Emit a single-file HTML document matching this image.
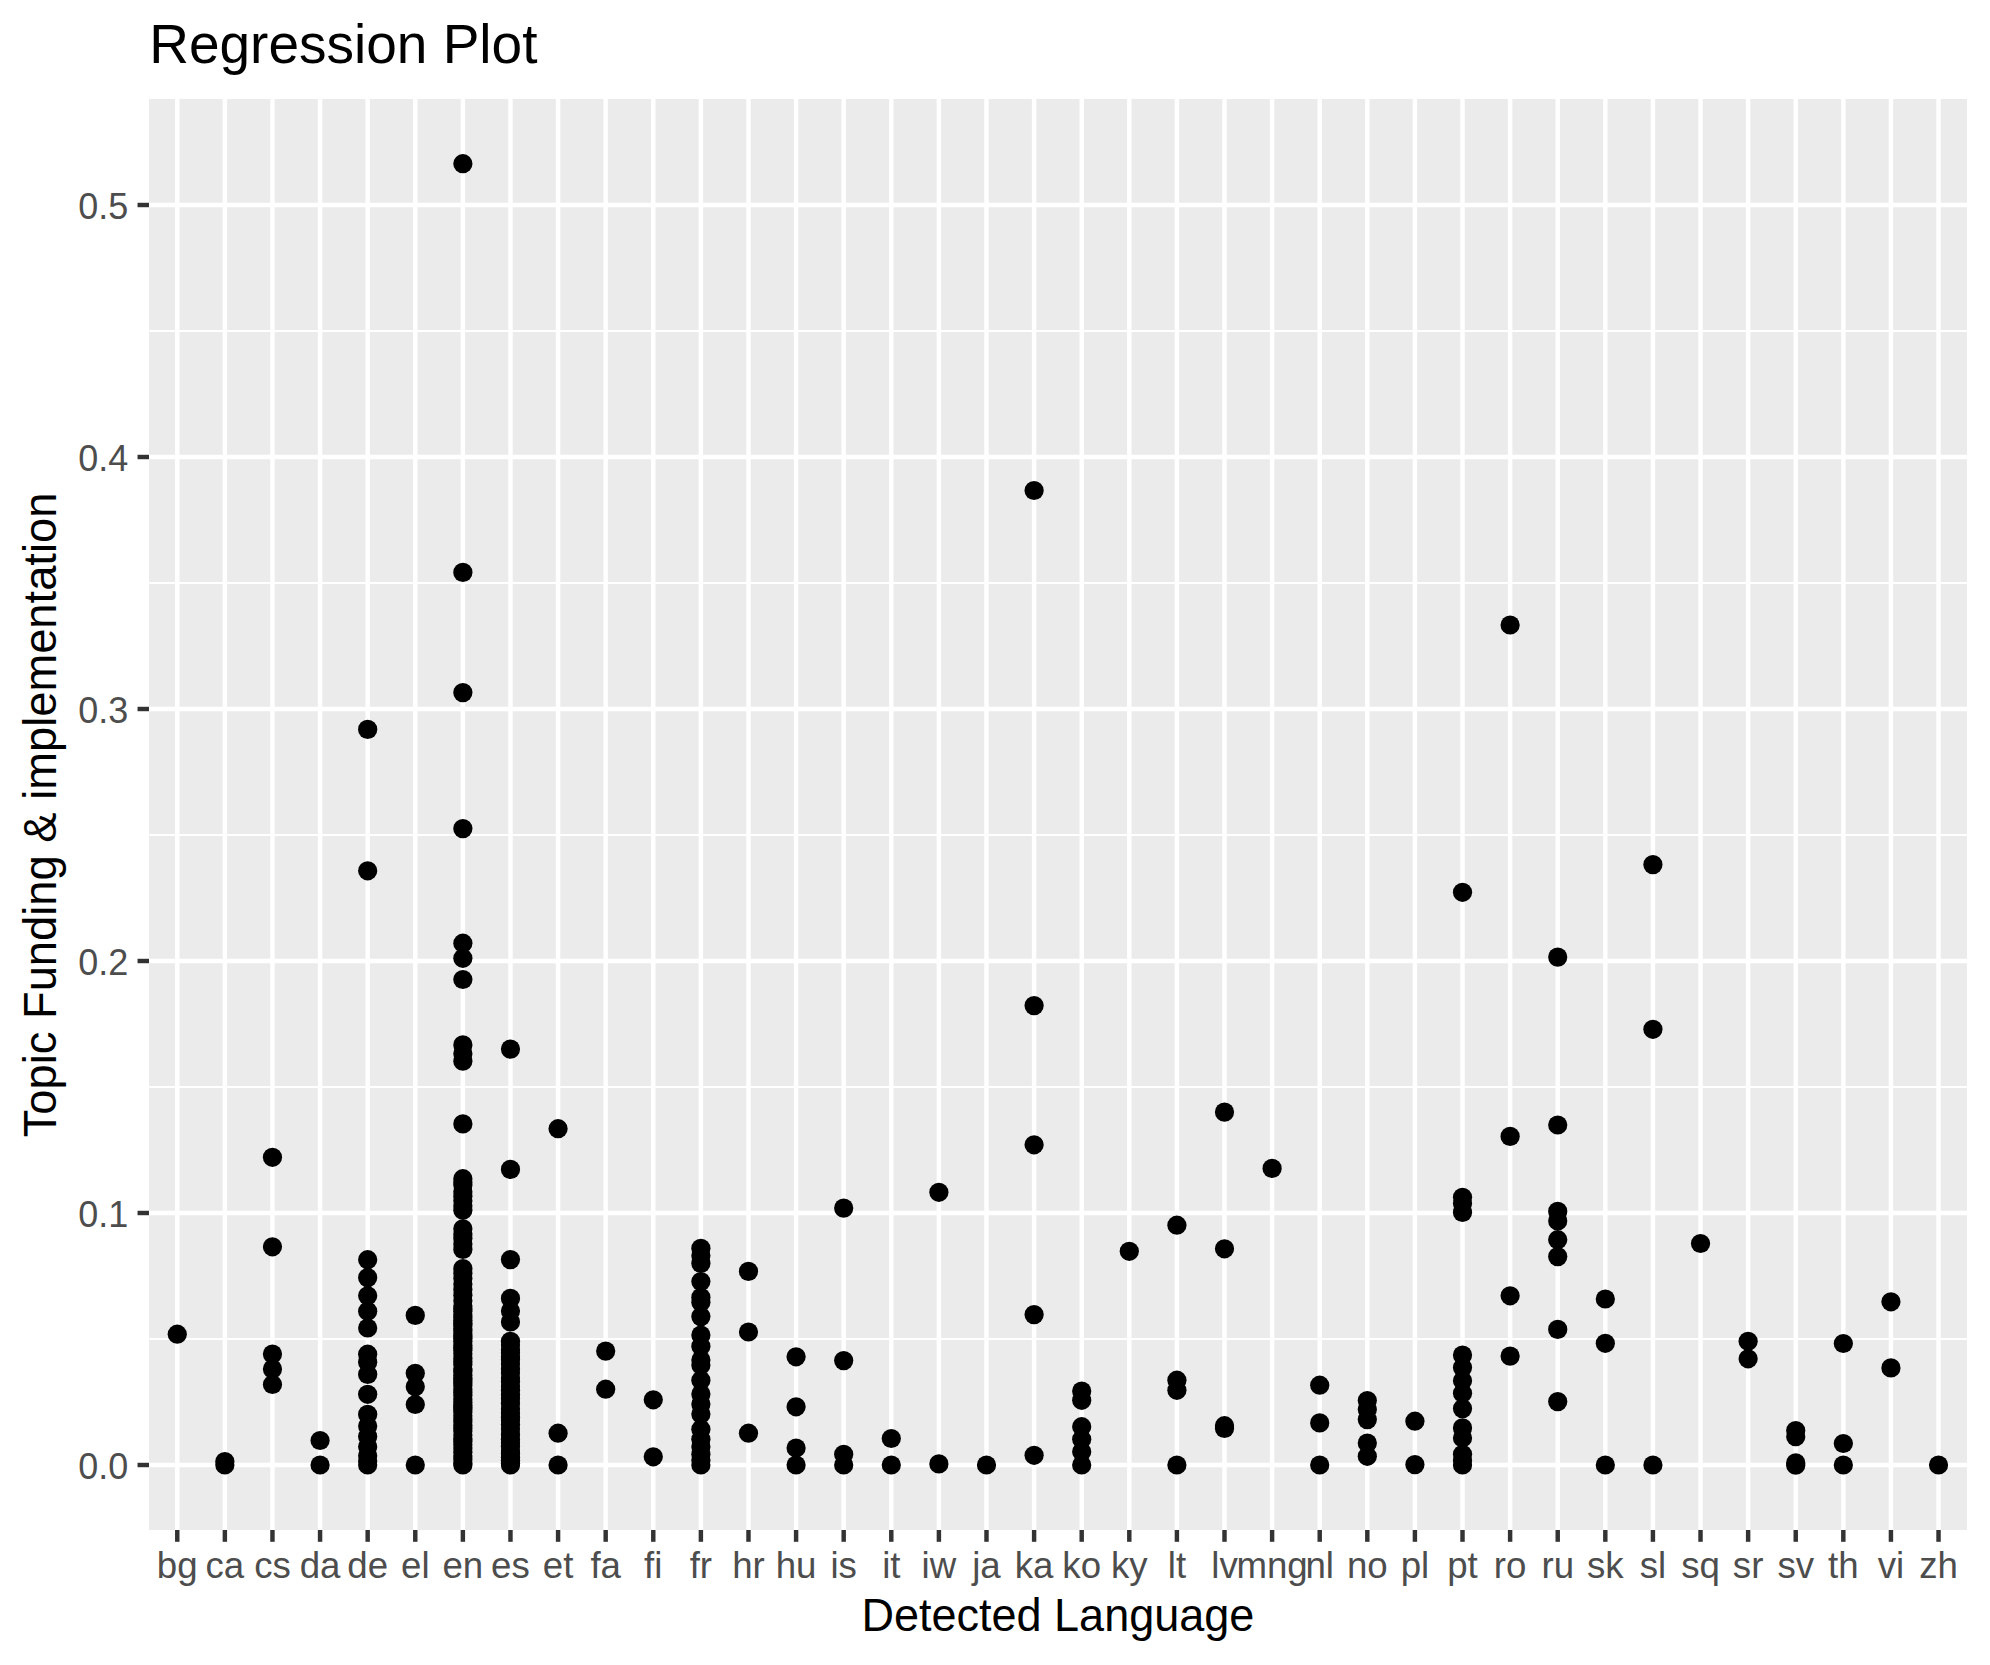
<!DOCTYPE html>
<html lang="en"><head><meta charset="utf-8"><title>Regression Plot</title>
<style>html,body{margin:0;padding:0;background:#fff}svg{display:block}text{font-family:"Liberation Sans",Arial,Helvetica,sans-serif}</style></head><body>
<svg width="1990" height="1665" viewBox="0 0 1990 1665">
<rect width="1990" height="1665" fill="#fff"/>
<rect x="149" y="99" width="1818.0" height="1431.0" fill="#EBEBEB"/>
<g stroke="#fff" stroke-width="2.2" fill="none">
<path d="M149 1339.00H1967"/>
<path d="M149 1087.00H1967"/>
<path d="M149 835.00H1967"/>
<path d="M149 583.00H1967"/>
<path d="M149 331.00H1967"/>
</g>
<g stroke="#fff" stroke-width="4.45" fill="none">
<path d="M149 1465.00H1967"/>
<path d="M149 1213.00H1967"/>
<path d="M149 961.00H1967"/>
<path d="M149 709.00H1967"/>
<path d="M149 457.00H1967"/>
<path d="M149 205.00H1967"/>
<path d="M177.26 99V1530"/>
<path d="M224.86 99V1530"/>
<path d="M272.46 99V1530"/>
<path d="M320.07 99V1530"/>
<path d="M367.67 99V1530"/>
<path d="M415.27 99V1530"/>
<path d="M462.87 99V1530"/>
<path d="M510.47 99V1530"/>
<path d="M558.08 99V1530"/>
<path d="M605.68 99V1530"/>
<path d="M653.28 99V1530"/>
<path d="M700.88 99V1530"/>
<path d="M748.48 99V1530"/>
<path d="M796.09 99V1530"/>
<path d="M843.69 99V1530"/>
<path d="M891.29 99V1530"/>
<path d="M938.89 99V1530"/>
<path d="M986.49 99V1530"/>
<path d="M1034.10 99V1530"/>
<path d="M1081.70 99V1530"/>
<path d="M1129.30 99V1530"/>
<path d="M1176.90 99V1530"/>
<path d="M1224.50 99V1530"/>
<path d="M1272.11 99V1530"/>
<path d="M1319.71 99V1530"/>
<path d="M1367.31 99V1530"/>
<path d="M1414.91 99V1530"/>
<path d="M1462.51 99V1530"/>
<path d="M1510.12 99V1530"/>
<path d="M1557.72 99V1530"/>
<path d="M1605.32 99V1530"/>
<path d="M1652.92 99V1530"/>
<path d="M1700.52 99V1530"/>
<path d="M1748.13 99V1530"/>
<path d="M1795.73 99V1530"/>
<path d="M1843.33 99V1530"/>
<path d="M1890.93 99V1530"/>
<path d="M1938.53 99V1530"/>
</g>
<g fill="#000">
<circle cx="177.26" cy="1334.2" r="9.62"/>
<circle cx="224.86" cy="1461.6" r="9.62"/>
<circle cx="224.86" cy="1465.0" r="9.62"/>
<circle cx="272.46" cy="1157.3" r="9.62"/>
<circle cx="272.46" cy="1246.8" r="9.62"/>
<circle cx="272.46" cy="1354.1" r="9.62"/>
<circle cx="272.46" cy="1369.1" r="9.62"/>
<circle cx="272.46" cy="1384.5" r="9.62"/>
<circle cx="320.07" cy="1440.5" r="9.62"/>
<circle cx="320.07" cy="1465.0" r="9.62"/>
<circle cx="367.67" cy="729.4" r="9.62"/>
<circle cx="367.67" cy="870.8" r="9.62"/>
<circle cx="367.67" cy="1259.7" r="9.62"/>
<circle cx="367.67" cy="1277.6" r="9.62"/>
<circle cx="367.67" cy="1295.8" r="9.62"/>
<circle cx="367.67" cy="1311.2" r="9.62"/>
<circle cx="367.67" cy="1328.0" r="9.62"/>
<circle cx="367.67" cy="1354.2" r="9.62"/>
<circle cx="367.67" cy="1362.3" r="9.62"/>
<circle cx="367.67" cy="1374.4" r="9.62"/>
<circle cx="367.67" cy="1394.3" r="9.62"/>
<circle cx="367.67" cy="1414.4" r="9.62"/>
<circle cx="367.67" cy="1426.0" r="9.62"/>
<circle cx="367.67" cy="1436.6" r="9.62"/>
<circle cx="367.67" cy="1446.7" r="9.62"/>
<circle cx="367.67" cy="1455.7" r="9.62"/>
<circle cx="367.67" cy="1461.0" r="9.62"/>
<circle cx="367.67" cy="1465.0" r="9.62"/>
<circle cx="415.27" cy="1315.4" r="9.62"/>
<circle cx="415.27" cy="1373.3" r="9.62"/>
<circle cx="415.27" cy="1386.8" r="9.62"/>
<circle cx="415.27" cy="1404.5" r="9.62"/>
<circle cx="415.27" cy="1465.0" r="9.62"/>
<circle cx="462.87" cy="163.7" r="9.62"/>
<circle cx="462.87" cy="572.4" r="9.62"/>
<circle cx="462.87" cy="692.6" r="9.62"/>
<circle cx="462.87" cy="828.6" r="9.62"/>
<circle cx="462.87" cy="943.2" r="9.62"/>
<circle cx="462.87" cy="958.3" r="9.62"/>
<circle cx="462.87" cy="979.5" r="9.62"/>
<circle cx="462.87" cy="1044.9" r="9.62"/>
<circle cx="462.87" cy="1053.7" r="9.62"/>
<circle cx="462.87" cy="1061.2" r="9.62"/>
<circle cx="462.87" cy="1123.9" r="9.62"/>
<circle cx="462.87" cy="1178.7" r="9.62"/>
<circle cx="462.87" cy="1182.6" r="9.62"/>
<circle cx="462.87" cy="1185.1" r="9.62"/>
<circle cx="462.87" cy="1191.7" r="9.62"/>
<circle cx="462.87" cy="1196.2" r="9.62"/>
<circle cx="462.87" cy="1200.7" r="9.62"/>
<circle cx="462.87" cy="1205.7" r="9.62"/>
<circle cx="462.87" cy="1210.3" r="9.62"/>
<circle cx="462.87" cy="1228.8" r="9.62"/>
<circle cx="462.87" cy="1233.9" r="9.62"/>
<circle cx="462.87" cy="1238.4" r="9.62"/>
<circle cx="462.87" cy="1243.9" r="9.62"/>
<circle cx="462.87" cy="1249.4" r="9.62"/>
<circle cx="462.87" cy="1268.5" r="9.62"/>
<circle cx="462.87" cy="1273.6" r="9.62"/>
<circle cx="462.87" cy="1278.6" r="9.62"/>
<circle cx="462.87" cy="1284.1" r="9.62"/>
<circle cx="462.87" cy="1289.6" r="9.62"/>
<circle cx="462.87" cy="1295.2" r="9.62"/>
<circle cx="462.87" cy="1300.7" r="9.62"/>
<circle cx="462.87" cy="1306.0" r="9.62"/>
<circle cx="462.87" cy="1308.8" r="9.62"/>
<circle cx="462.87" cy="1311.2" r="9.62"/>
<circle cx="462.87" cy="1314.8" r="9.62"/>
<circle cx="462.87" cy="1317.0" r="9.62"/>
<circle cx="462.87" cy="1320.3" r="9.62"/>
<circle cx="462.87" cy="1323.2" r="9.62"/>
<circle cx="462.87" cy="1325.4" r="9.62"/>
<circle cx="462.87" cy="1328.7" r="9.62"/>
<circle cx="462.87" cy="1330.8" r="9.62"/>
<circle cx="462.87" cy="1333.8" r="9.62"/>
<circle cx="462.87" cy="1336.0" r="9.62"/>
<circle cx="462.87" cy="1338.2" r="9.62"/>
<circle cx="462.87" cy="1341.3" r="9.62"/>
<circle cx="462.87" cy="1345.4" r="9.62"/>
<circle cx="462.87" cy="1347.7" r="9.62"/>
<circle cx="462.87" cy="1350.2" r="9.62"/>
<circle cx="462.87" cy="1353.8" r="9.62"/>
<circle cx="462.87" cy="1358.2" r="9.62"/>
<circle cx="462.87" cy="1361.6" r="9.62"/>
<circle cx="462.87" cy="1364.6" r="9.62"/>
<circle cx="462.87" cy="1369.1" r="9.62"/>
<circle cx="462.87" cy="1371.2" r="9.62"/>
<circle cx="462.87" cy="1375.3" r="9.62"/>
<circle cx="462.87" cy="1378.0" r="9.62"/>
<circle cx="462.87" cy="1380.4" r="9.62"/>
<circle cx="462.87" cy="1382.7" r="9.62"/>
<circle cx="462.87" cy="1385.5" r="9.62"/>
<circle cx="462.87" cy="1389.5" r="9.62"/>
<circle cx="462.87" cy="1392.0" r="9.62"/>
<circle cx="462.87" cy="1395.4" r="9.62"/>
<circle cx="462.87" cy="1399.0" r="9.62"/>
<circle cx="462.87" cy="1401.9" r="9.62"/>
<circle cx="462.87" cy="1405.3" r="9.62"/>
<circle cx="462.87" cy="1407.5" r="9.62"/>
<circle cx="462.87" cy="1409.6" r="9.62"/>
<circle cx="462.87" cy="1412.1" r="9.62"/>
<circle cx="462.87" cy="1415.8" r="9.62"/>
<circle cx="462.87" cy="1418.9" r="9.62"/>
<circle cx="462.87" cy="1421.7" r="9.62"/>
<circle cx="462.87" cy="1425.1" r="9.62"/>
<circle cx="462.87" cy="1428.3" r="9.62"/>
<circle cx="462.87" cy="1431.0" r="9.62"/>
<circle cx="462.87" cy="1435.0" r="9.62"/>
<circle cx="462.87" cy="1438.8" r="9.62"/>
<circle cx="462.87" cy="1441.4" r="9.62"/>
<circle cx="462.87" cy="1444.8" r="9.62"/>
<circle cx="462.87" cy="1448.1" r="9.62"/>
<circle cx="462.87" cy="1452.3" r="9.62"/>
<circle cx="462.87" cy="1456.1" r="9.62"/>
<circle cx="462.87" cy="1458.9" r="9.62"/>
<circle cx="462.87" cy="1463.3" r="9.62"/>
<circle cx="462.87" cy="1465.0" r="9.62"/>
<circle cx="510.47" cy="1049.1" r="9.62"/>
<circle cx="510.47" cy="1169.4" r="9.62"/>
<circle cx="510.47" cy="1259.6" r="9.62"/>
<circle cx="510.47" cy="1298.4" r="9.62"/>
<circle cx="510.47" cy="1311.0" r="9.62"/>
<circle cx="510.47" cy="1321.9" r="9.62"/>
<circle cx="510.47" cy="1341.3" r="9.62"/>
<circle cx="510.47" cy="1345.1" r="9.62"/>
<circle cx="510.47" cy="1349.8" r="9.62"/>
<circle cx="510.47" cy="1352.8" r="9.62"/>
<circle cx="510.47" cy="1356.7" r="9.62"/>
<circle cx="510.47" cy="1359.4" r="9.62"/>
<circle cx="510.47" cy="1363.9" r="9.62"/>
<circle cx="510.47" cy="1368.7" r="9.62"/>
<circle cx="510.47" cy="1372.9" r="9.62"/>
<circle cx="510.47" cy="1378.0" r="9.62"/>
<circle cx="510.47" cy="1381.5" r="9.62"/>
<circle cx="510.47" cy="1386.0" r="9.62"/>
<circle cx="510.47" cy="1390.3" r="9.62"/>
<circle cx="510.47" cy="1394.6" r="9.62"/>
<circle cx="510.47" cy="1398.4" r="9.62"/>
<circle cx="510.47" cy="1403.4" r="9.62"/>
<circle cx="510.47" cy="1408.8" r="9.62"/>
<circle cx="510.47" cy="1412.7" r="9.62"/>
<circle cx="510.47" cy="1417.2" r="9.62"/>
<circle cx="510.47" cy="1419.9" r="9.62"/>
<circle cx="510.47" cy="1424.5" r="9.62"/>
<circle cx="510.47" cy="1428.9" r="9.62"/>
<circle cx="510.47" cy="1434.4" r="9.62"/>
<circle cx="510.47" cy="1439.4" r="9.62"/>
<circle cx="510.47" cy="1442.7" r="9.62"/>
<circle cx="510.47" cy="1446.4" r="9.62"/>
<circle cx="510.47" cy="1450.9" r="9.62"/>
<circle cx="510.47" cy="1453.5" r="9.62"/>
<circle cx="510.47" cy="1457.3" r="9.62"/>
<circle cx="510.47" cy="1460.3" r="9.62"/>
<circle cx="510.47" cy="1463.2" r="9.62"/>
<circle cx="510.47" cy="1465.0" r="9.62"/>
<circle cx="558.08" cy="1128.7" r="9.62"/>
<circle cx="558.08" cy="1433.2" r="9.62"/>
<circle cx="558.08" cy="1465.0" r="9.62"/>
<circle cx="605.68" cy="1351.1" r="9.62"/>
<circle cx="605.68" cy="1389.2" r="9.62"/>
<circle cx="653.28" cy="1399.8" r="9.62"/>
<circle cx="653.28" cy="1456.8" r="9.62"/>
<circle cx="700.88" cy="1248.3" r="9.62"/>
<circle cx="700.88" cy="1255.8" r="9.62"/>
<circle cx="700.88" cy="1263.4" r="9.62"/>
<circle cx="700.88" cy="1281.5" r="9.62"/>
<circle cx="700.88" cy="1297.3" r="9.62"/>
<circle cx="700.88" cy="1302.3" r="9.62"/>
<circle cx="700.88" cy="1316.6" r="9.62"/>
<circle cx="700.88" cy="1335.0" r="9.62"/>
<circle cx="700.88" cy="1346.3" r="9.62"/>
<circle cx="700.88" cy="1360.1" r="9.62"/>
<circle cx="700.88" cy="1365.1" r="9.62"/>
<circle cx="700.88" cy="1380.2" r="9.62"/>
<circle cx="700.88" cy="1394.0" r="9.62"/>
<circle cx="700.88" cy="1404.1" r="9.62"/>
<circle cx="700.88" cy="1414.1" r="9.62"/>
<circle cx="700.88" cy="1429.2" r="9.62"/>
<circle cx="700.88" cy="1439.2" r="9.62"/>
<circle cx="700.88" cy="1446.8" r="9.62"/>
<circle cx="700.88" cy="1454.3" r="9.62"/>
<circle cx="700.88" cy="1460.6" r="9.62"/>
<circle cx="700.88" cy="1465.0" r="9.62"/>
<circle cx="748.48" cy="1271.4" r="9.62"/>
<circle cx="748.48" cy="1332.0" r="9.62"/>
<circle cx="748.48" cy="1433.2" r="9.62"/>
<circle cx="796.09" cy="1356.8" r="9.62"/>
<circle cx="796.09" cy="1406.8" r="9.62"/>
<circle cx="796.09" cy="1448.0" r="9.62"/>
<circle cx="796.09" cy="1465.0" r="9.62"/>
<circle cx="843.69" cy="1208.1" r="9.62"/>
<circle cx="843.69" cy="1360.6" r="9.62"/>
<circle cx="843.69" cy="1454.3" r="9.62"/>
<circle cx="843.69" cy="1465.0" r="9.62"/>
<circle cx="891.29" cy="1438.5" r="9.62"/>
<circle cx="891.29" cy="1465.0" r="9.62"/>
<circle cx="938.89" cy="1192.3" r="9.62"/>
<circle cx="938.89" cy="1463.9" r="9.62"/>
<circle cx="986.49" cy="1465.0" r="9.62"/>
<circle cx="1034.10" cy="490.5" r="9.62"/>
<circle cx="1034.10" cy="1005.6" r="9.62"/>
<circle cx="1034.10" cy="1144.8" r="9.62"/>
<circle cx="1034.10" cy="1314.6" r="9.62"/>
<circle cx="1034.10" cy="1455.3" r="9.62"/>
<circle cx="1081.70" cy="1391.0" r="9.62"/>
<circle cx="1081.70" cy="1400.3" r="9.62"/>
<circle cx="1081.70" cy="1426.7" r="9.62"/>
<circle cx="1081.70" cy="1439.2" r="9.62"/>
<circle cx="1081.70" cy="1451.8" r="9.62"/>
<circle cx="1081.70" cy="1465.0" r="9.62"/>
<circle cx="1129.30" cy="1251.3" r="9.62"/>
<circle cx="1176.90" cy="1225.2" r="9.62"/>
<circle cx="1176.90" cy="1380.2" r="9.62"/>
<circle cx="1176.90" cy="1390.3" r="9.62"/>
<circle cx="1176.90" cy="1465.0" r="9.62"/>
<circle cx="1224.50" cy="1112.1" r="9.62"/>
<circle cx="1224.50" cy="1248.8" r="9.62"/>
<circle cx="1224.50" cy="1425.7" r="9.62"/>
<circle cx="1224.50" cy="1428.4" r="9.62"/>
<circle cx="1272.11" cy="1168.4" r="9.62"/>
<circle cx="1319.71" cy="1385.2" r="9.62"/>
<circle cx="1319.71" cy="1422.9" r="9.62"/>
<circle cx="1319.71" cy="1465.0" r="9.62"/>
<circle cx="1367.31" cy="1400.6" r="9.62"/>
<circle cx="1367.31" cy="1409.6" r="9.62"/>
<circle cx="1367.31" cy="1419.6" r="9.62"/>
<circle cx="1367.31" cy="1443.0" r="9.62"/>
<circle cx="1367.31" cy="1456.3" r="9.62"/>
<circle cx="1414.91" cy="1421.2" r="9.62"/>
<circle cx="1414.91" cy="1464.6" r="9.62"/>
<circle cx="1462.51" cy="892.3" r="9.62"/>
<circle cx="1462.51" cy="1197.3" r="9.62"/>
<circle cx="1462.51" cy="1203.6" r="9.62"/>
<circle cx="1462.51" cy="1212.4" r="9.62"/>
<circle cx="1462.51" cy="1355.1" r="9.62"/>
<circle cx="1462.51" cy="1367.6" r="9.62"/>
<circle cx="1462.51" cy="1380.7" r="9.62"/>
<circle cx="1462.51" cy="1393.3" r="9.62"/>
<circle cx="1462.51" cy="1408.6" r="9.62"/>
<circle cx="1462.51" cy="1427.9" r="9.62"/>
<circle cx="1462.51" cy="1438.0" r="9.62"/>
<circle cx="1462.51" cy="1454.3" r="9.62"/>
<circle cx="1462.51" cy="1460.6" r="9.62"/>
<circle cx="1462.51" cy="1465.0" r="9.62"/>
<circle cx="1510.12" cy="625.0" r="9.62"/>
<circle cx="1510.12" cy="1136.4" r="9.62"/>
<circle cx="1510.12" cy="1295.8" r="9.62"/>
<circle cx="1510.12" cy="1356.1" r="9.62"/>
<circle cx="1557.72" cy="957.1" r="9.62"/>
<circle cx="1557.72" cy="1125.0" r="9.62"/>
<circle cx="1557.72" cy="1211.4" r="9.62"/>
<circle cx="1557.72" cy="1220.9" r="9.62"/>
<circle cx="1557.72" cy="1239.7" r="9.62"/>
<circle cx="1557.72" cy="1256.6" r="9.62"/>
<circle cx="1557.72" cy="1329.4" r="9.62"/>
<circle cx="1557.72" cy="1401.6" r="9.62"/>
<circle cx="1605.32" cy="1299.0" r="9.62"/>
<circle cx="1605.32" cy="1343.3" r="9.62"/>
<circle cx="1605.32" cy="1465.0" r="9.62"/>
<circle cx="1652.92" cy="864.6" r="9.62"/>
<circle cx="1652.92" cy="1029.3" r="9.62"/>
<circle cx="1652.92" cy="1465.0" r="9.62"/>
<circle cx="1700.52" cy="1243.5" r="9.62"/>
<circle cx="1748.13" cy="1341.3" r="9.62"/>
<circle cx="1748.13" cy="1358.8" r="9.62"/>
<circle cx="1795.73" cy="1430.5" r="9.62"/>
<circle cx="1795.73" cy="1436.7" r="9.62"/>
<circle cx="1795.73" cy="1462.9" r="9.62"/>
<circle cx="1795.73" cy="1465.2" r="9.62"/>
<circle cx="1843.33" cy="1343.5" r="9.62"/>
<circle cx="1843.33" cy="1443.5" r="9.62"/>
<circle cx="1843.33" cy="1465.0" r="9.62"/>
<circle cx="1890.93" cy="1301.8" r="9.62"/>
<circle cx="1890.93" cy="1367.9" r="9.62"/>
<circle cx="1938.53" cy="1465.0" r="9.62"/>
</g>
<g stroke="#333" stroke-width="4.45" fill="none">
<path d="M137.54 1465.00H149"/>
<path d="M137.54 1213.00H149"/>
<path d="M137.54 961.00H149"/>
<path d="M137.54 709.00H149"/>
<path d="M137.54 457.00H149"/>
<path d="M137.54 205.00H149"/>
<path d="M177.26 1530V1541.80"/>
<path d="M224.86 1530V1541.80"/>
<path d="M272.46 1530V1541.80"/>
<path d="M320.07 1530V1541.80"/>
<path d="M367.67 1530V1541.80"/>
<path d="M415.27 1530V1541.80"/>
<path d="M462.87 1530V1541.80"/>
<path d="M510.47 1530V1541.80"/>
<path d="M558.08 1530V1541.80"/>
<path d="M605.68 1530V1541.80"/>
<path d="M653.28 1530V1541.80"/>
<path d="M700.88 1530V1541.80"/>
<path d="M748.48 1530V1541.80"/>
<path d="M796.09 1530V1541.80"/>
<path d="M843.69 1530V1541.80"/>
<path d="M891.29 1530V1541.80"/>
<path d="M938.89 1530V1541.80"/>
<path d="M986.49 1530V1541.80"/>
<path d="M1034.10 1530V1541.80"/>
<path d="M1081.70 1530V1541.80"/>
<path d="M1129.30 1530V1541.80"/>
<path d="M1176.90 1530V1541.80"/>
<path d="M1224.50 1530V1541.80"/>
<path d="M1272.11 1530V1541.80"/>
<path d="M1319.71 1530V1541.80"/>
<path d="M1367.31 1530V1541.80"/>
<path d="M1414.91 1530V1541.80"/>
<path d="M1462.51 1530V1541.80"/>
<path d="M1510.12 1530V1541.80"/>
<path d="M1557.72 1530V1541.80"/>
<path d="M1605.32 1530V1541.80"/>
<path d="M1652.92 1530V1541.80"/>
<path d="M1700.52 1530V1541.80"/>
<path d="M1748.13 1530V1541.80"/>
<path d="M1795.73 1530V1541.80"/>
<path d="M1843.33 1530V1541.80"/>
<path d="M1890.93 1530V1541.80"/>
<path d="M1938.53 1530V1541.80"/>
</g>
<g fill="#4D4D4D" font-size="36" text-anchor="end">
<text x="128.2" y="1478.80">0.0</text>
<text x="128.2" y="1226.80">0.1</text>
<text x="128.2" y="974.80">0.2</text>
<text x="128.2" y="722.80">0.3</text>
<text x="128.2" y="470.80">0.4</text>
<text x="128.2" y="218.80">0.5</text>
</g>
<g fill="#4D4D4D" font-size="36.67" text-anchor="middle">
<text x="177.26" y="1578">bg</text>
<text x="224.86" y="1578">ca</text>
<text x="272.46" y="1578">cs</text>
<text x="320.07" y="1578">da</text>
<text x="367.67" y="1578">de</text>
<text x="415.27" y="1578">el</text>
<text x="462.87" y="1578">en</text>
<text x="510.47" y="1578">es</text>
<text x="558.08" y="1578">et</text>
<text x="605.68" y="1578">fa</text>
<text x="653.28" y="1578">fi</text>
<text x="700.88" y="1578">fr</text>
<text x="748.48" y="1578">hr</text>
<text x="796.09" y="1578">hu</text>
<text x="843.69" y="1578">is</text>
<text x="891.29" y="1578">it</text>
<text x="938.89" y="1578">iw</text>
<text x="986.49" y="1578">ja</text>
<text x="1034.10" y="1578">ka</text>
<text x="1081.70" y="1578">ko</text>
<text x="1129.30" y="1578">ky</text>
<text x="1176.90" y="1578">lt</text>
<text x="1224.50" y="1578">lv</text>
<text x="1272.11" y="1578">mng</text>
<text x="1319.71" y="1578">nl</text>
<text x="1367.31" y="1578">no</text>
<text x="1414.91" y="1578">pl</text>
<text x="1462.51" y="1578">pt</text>
<text x="1510.12" y="1578">ro</text>
<text x="1557.72" y="1578">ru</text>
<text x="1605.32" y="1578">sk</text>
<text x="1652.92" y="1578">sl</text>
<text x="1700.52" y="1578">sq</text>
<text x="1748.13" y="1578">sr</text>
<text x="1795.73" y="1578">sv</text>
<text x="1843.33" y="1578">th</text>
<text x="1890.93" y="1578">vi</text>
<text x="1938.53" y="1578">zh</text>
</g>
<text transform="translate(1057.9 1631.3) scale(0.9823 1)" font-size="45.83" text-anchor="middle" fill="#000">Detected Language</text>
<text transform="translate(56.2 815.0) rotate(-90) scale(0.989 1)" font-size="45.83" text-anchor="middle" fill="#000">Topic Funding &amp; implementation</text>
<text x="149.2" y="63.0" font-size="55" fill="#000">Regression Plot</text>
</svg></body></html>
